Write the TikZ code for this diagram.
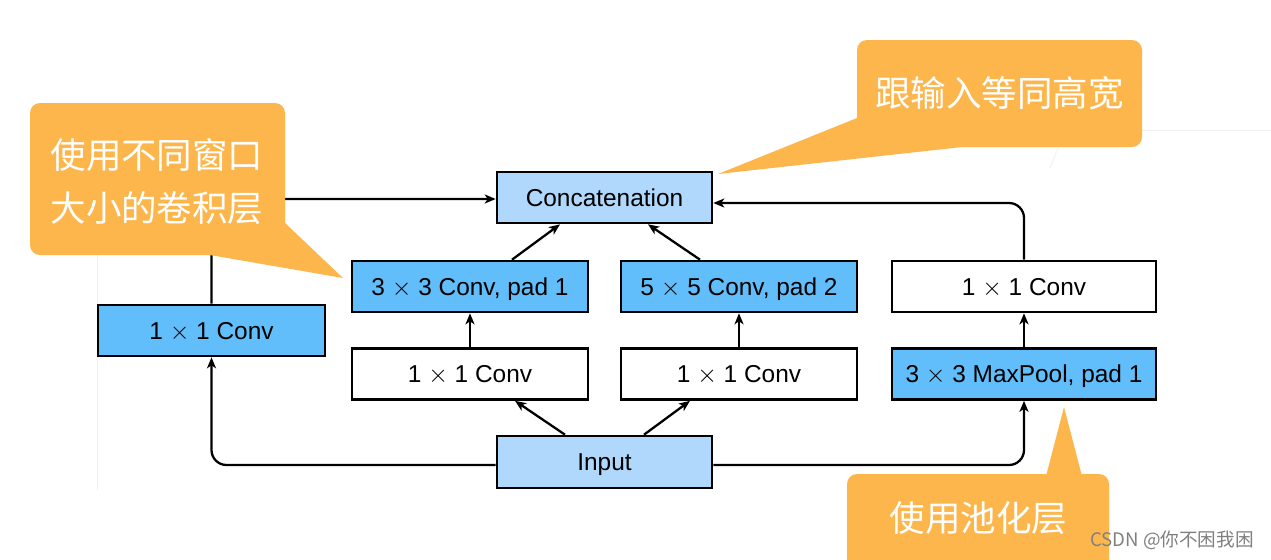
\documentclass[tikz,border=0pt]{standalone}
\usepackage{fontspec}
\setmainfont{Liberation Sans}
\newfontfamily\cjk{Noto Sans CJK SC}
\usetikzlibrary{arrows.meta}
\definecolor{bluedark}{RGB}{98,190,250}
\definecolor{bluelight}{RGB}{176,216,252}
\definecolor{callout}{RGB}{252,182,76}
\tikzset{
  box/.style={draw=black, line width=1.5pt, minimum height=10.2mm, inner sep=0pt,
    text height=11.5pt, text depth=1.55pt,
    font=\fontsize{13.9}{16}\selectfont},
  arr/.style={line width=1.3pt, -{Stealth[length=2.2mm,width=1.8mm,inset=0.6mm]}},
  bubble/.style={fill=callout, draw=none},
  bubbletext/.style={text=white, font=\cjk\fontsize{20.2}{30.2}\selectfont, align=center, inner sep=0pt},
  faint/.style={draw=black!6, line width=0.4pt}
}
\begin{document}
\begin{tikzpicture}[x=0.02cm,y=-0.02cm]
\clip (0,0) rectangle (1271,559);
\fill[white] (0,0) rectangle (1271,559);
% faint artifacts
\draw[faint] (1142,130) -- (1271,130);
\draw[faint] (1058,148) -- (1050,168);
\draw[faint] (97,255) -- (97,490);
% boxes
\node[box, fill=bluelight, minimum width=43mm] (concat) at (604.5,197.5) {Concatenation};
\node[box, fill=bluedark, minimum width=47.2mm] (c3) at (470,286.5) {3 $\times$ 3 Conv, pad 1};
\node[box, fill=bluedark, minimum width=47.2mm] (c5) at (739,286.5) {5 $\times$ 5 Conv, pad 2};
\node[box, fill=white, minimum width=52.8mm] (r1) at (1024,286.5) {1 $\times$ 1 Conv};
\node[box, fill=bluedark, minimum width=45.4mm] (c1) at (211.5,330.5) {1 $\times$ 1 Conv};
\node[box, fill=white, minimum width=47.2mm] (m1) at (470,374) {1 $\times$ 1 Conv};
\node[box, fill=white, minimum width=47.2mm] (m2) at (739,374) {1 $\times$ 1 Conv};
\node[box, fill=bluedark, minimum width=52.8mm] (pool) at (1024,374) {3 $\times$ 3 MaxPool, pad 1};
\node[box, fill=bluelight, minimum width=43mm, minimum height=10.4mm] (input) at (604.5,462) {Input};
% connectors
\draw[arr, rounded corners=3mm] ([yshift=-0.6mm]input.west) -| (c1.south);
\draw[arr, rounded corners=3mm] ([yshift=-0.6mm]input.east) -| (pool.south);
\draw[arr] ([xshift=-7.9mm]input.north) -- ([xshift=9mm]m1.south);
\draw[arr] ([xshift=7.9mm]input.north) -- ([xshift=-9.8mm]m2.south);
\draw[arr] (m1.north) -- (c3.south);
\draw[arr] (m2.north) -- (c5.south);
\draw[arr] (pool.north) -- (r1.south);
\draw[arr] ([xshift=8.4mm]c3.north) -- ([xshift=-8.9mm]concat.south);
\draw[arr] ([xshift=-7.8mm]c5.north) -- ([xshift=8.7mm]concat.south);
\draw[arr, rounded corners=3mm] (c1.north) |- ([yshift=-0.3mm]concat.west);
\draw[arr, rounded corners=3mm] (r1.north) |- ([yshift=-1.1mm]concat.east);
% callouts
\fill[bubble, rounded corners=2mm] (30,103) rectangle (285,255);
\fill[bubble] (285,223) -- (343,278) -- (210,255) -- (250,235) -- cycle;
\node[bubbletext] (t1) at (157,181.5) {使用不同窗口\\大小的卷积层};
\fill[bubble, rounded corners=2mm] (857,40) rectangle (1142,147);
\fill[bubble] (857,118) -- (718,174) -- (962,147) -- (900,130) -- cycle;
\node[bubbletext] (t2) at (999.5,93) {跟输入等同高宽};
\fill[bubble, rounded corners=2mm] (847,474) rectangle (1109,600);
\fill[bubble] (1045,480) -- (1064,407) -- (1083,480) -- cycle;
\node[bubbletext] (t3) at (978.5,518) {使用池化层};
\node[text=black!50, font=\cjk\fontsize{10.6}{12}\selectfont, inner sep=0pt] (wm) at (1172,540) {CSDN @你不困我困};
\end{tikzpicture}
\end{document}
